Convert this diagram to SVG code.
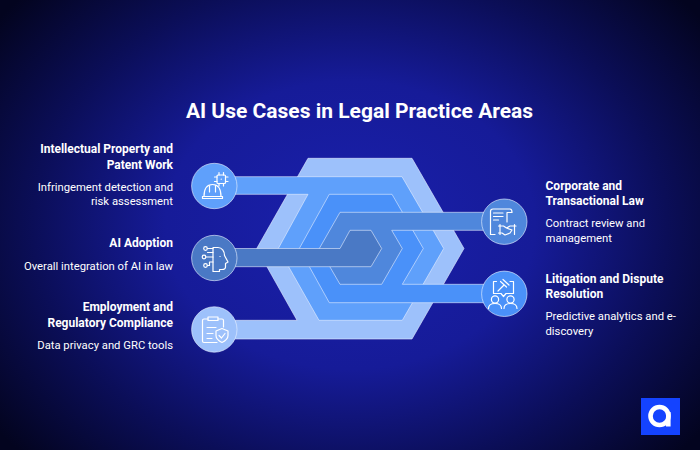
<svg xmlns="http://www.w3.org/2000/svg" width="700" height="450" viewBox="0 0 700 450">
<defs>
<radialGradient id="bg" gradientUnits="userSpaceOnUse" cx="350" cy="225" r="440" gradientTransform="translate(350 225) scale(1 0.78) translate(-350 -225)">
<stop offset="0" stop-color="#1a20ad"/><stop offset="0.42" stop-color="#161b98"/><stop offset="0.72" stop-color="#0b0e58"/><stop offset="1" stop-color="#03041f"/>
</radialGradient>
</defs>
<style>
.t{font-family:"Roboto","Liberation Sans",sans-serif;fill:#fff}
.h{font-size:12px;font-weight:700}
.d{font-size:11.27px;font-weight:400}
.e{text-anchor:end}
.band{stroke:#e6efff;stroke-opacity:.75;stroke-width:.8}
.ic{fill:none;stroke:#fff;stroke-width:1.2;stroke-linecap:round;stroke-linejoin:round}
.c{stroke:#e6efff;stroke-opacity:.8;stroke-width:.8}
</style>
<rect width="700" height="450" fill="url(#bg)"/>
<text class="t" x="359.500" y="117.500" text-anchor="middle" font-size="21" font-weight="700">AI Use Cases in Legal Practice Areas</text>
<g id="connectors">
<path class="band" fill="#9dc1fb" d="M308 158.300H412L464 248.500L412 339H225V320.300H297L256.700 248.500Z"/>
<path class="band" fill="#5fa0fb" d="M225 176.700H402L443.700 248.500L402.300 320.300H319L278.300 248.500L308 194.300H225Z"/>
<path class="band" fill="#4a91f9" d="M299.300 248.500L329.300 194.300H392L423.300 248.500L402.300 284.300H495V302.700H329.300Z"/>
<path class="band" fill="#4f87dc" d="M319.300 248.500L340 212.300H495V230.300H391.700L402.300 248.500L381.700 284.300H340Z"/>
<path class="band" fill="#4a79c5" d="M225 248.500H340L350 230.300H371L381.700 248.500L371 266.700H225Z"/>
</g>
<g id="node-ip">
<circle class="c" cx="214.300" cy="186" r="22.700" fill="#5fa0fb"/>
<g class="ic">
<path d="M204 196.500C204 189 207 184.500 212.500 184.500C218 184.500 221 189 221 196.500M209.500 185.500V192M215.500 185.500V192"/>
<path d="M202.500 196.500H222.500V198.500H202.500Z"/>
<rect x="217" y="175" width="8.500" height="8.500" rx="1"/>
<path d="M219 175V172.500M223.500 175V172.500M219 186V183.500M223.500 186V183.500M217 177H214.500M217 181.500H214.500M228 177H225.500M228 181.500H225.500M221.200 179.200h.1"/>
</g>
<text class="t h e" x="173" y="153">Intellectual Property and</text>
<text class="t h e" x="173" y="169">Patent Work</text>
<text class="t d e" x="173" y="191">Infringement detection and</text>
<text class="t d e" x="173" y="205">risk assessment</text>
</g>
<g id="node-ai">
<circle class="c" cx="214.300" cy="258" r="22.700" fill="#4a79c5"/>
<g class="ic">
<path d="M213 247.500H218C222 247.500 224.500 251 224.500 255.500L228 262L225.500 263.500V267C225.500 268.500 224 269.500 222 269.500H219.500V271.500H213Z"/>
<circle cx="205.500" cy="248.500" r="1.800"/><circle cx="204" cy="257" r="1.800"/><circle cx="205.500" cy="265.500" r="1.800"/>
<path d="M207.300 248.500H213M205.800 257H213M207.300 265.500H209.500V262H213M207.500 252.500H213"/>
<path d="M220 256.500h.1"/>
</g>
<text class="t h e" x="173" y="247">AI Adoption</text>
<text class="t d e" x="173" y="270">Overall integration of AI in law</text>
</g>
<g id="node-compliance">
<circle class="c" cx="214.300" cy="329.500" r="22.700" fill="#9dc1fb"/>
<g class="ic">
<path d="M208 319H204C203 319 202.500 319.500 202.500 320.500V341C202.500 342 203 342.500 204 342.500H217M218 319H222C223 319 223.500 319.500 223.500 320.500V327"/>
<path d="M208 320.500V317H218V320.500Z"/>
<path d="M207 327.500H216M207 333.500H213M207 338.500H212"/>
<path d="M222 328.500L228 331V335.500C228 339 225 341 222 342.500C219 341 216 339 216 335.500V331Z"/>
<path d="M219 335.500L221.500 338L225 333.500"/>
</g>
<text class="t h e" x="173" y="311">Employment and</text>
<text class="t h e" x="173" y="327">Regulatory Compliance</text>
<text class="t d e" x="173" y="349">Data privacy and GRC tools</text>
</g>
<g id="node-corporate">
<circle class="c" cx="504.300" cy="221.700" r="22.700" fill="#4f87dc"/>
<g class="ic">
<path d="M490.500 234.500V211.500C490.500 210 491.500 209 493 209H510C511.500 209 512 210 512 212.500H507V222"/>
<path d="M493.500 213H503M493.500 216.500H503M493.500 220H498.500M490.500 234.500H495"/>
<path d="M498.500 226H503.500L506.500 228L510 226H516M498.500 233H502L505 235L510 233L512 230L506.500 228M500 224.500V234.500M514.500 224.500V234.500"/>
</g>
<text class="t h" x="545.500" y="190">Corporate and</text>
<text class="t h" x="545.500" y="205">Transactional Law</text>
<text class="t d" x="545.500" y="227">Contract review and</text>
<text class="t d" x="545.500" y="242">management</text>
</g>
<g id="node-litigation">
<circle class="c" cx="504.300" cy="293.800" r="22.700" fill="#4a91f9"/>
<g class="ic">
<path d="M496.500 281.500H493.500V293.500H501L503.500 296.500L506 293.500H513.500V281.500H510"/>
<path d="M498 291L503.500 285.500M500.500 281.500L506.500 287M503 279.500L509 285"/>
<circle cx="495" cy="299.500" r="3.600"/><circle cx="510.500" cy="299.500" r="3.600"/>
<path d="M488.500 308.500C488.500 305 491 303.500 495 303.500C499 303.500 501.500 305 501.500 308.500M504 308.500C504 305 506.500 303.500 510.500 303.500C514.500 303.500 517 305 517 308.500"/>
</g>
<text class="t h" x="545.500" y="283">Litigation and Dispute</text>
<text class="t h" x="545.500" y="298">Resolution</text>
<text class="t d" x="545.500" y="320">Predictive analytics and e-</text>
<text class="t d" x="545.500" y="335">discovery</text>
</g>
<g id="logo">
<rect x="641" y="398" width="39" height="37" fill="#1443ff"/>
<circle cx="659.500" cy="416" r="9" fill="none" stroke="#fff" stroke-width="4.600"/>
<rect x="666" y="412" width="4.600" height="14.500" fill="#fff"/>
</g>
</svg>
